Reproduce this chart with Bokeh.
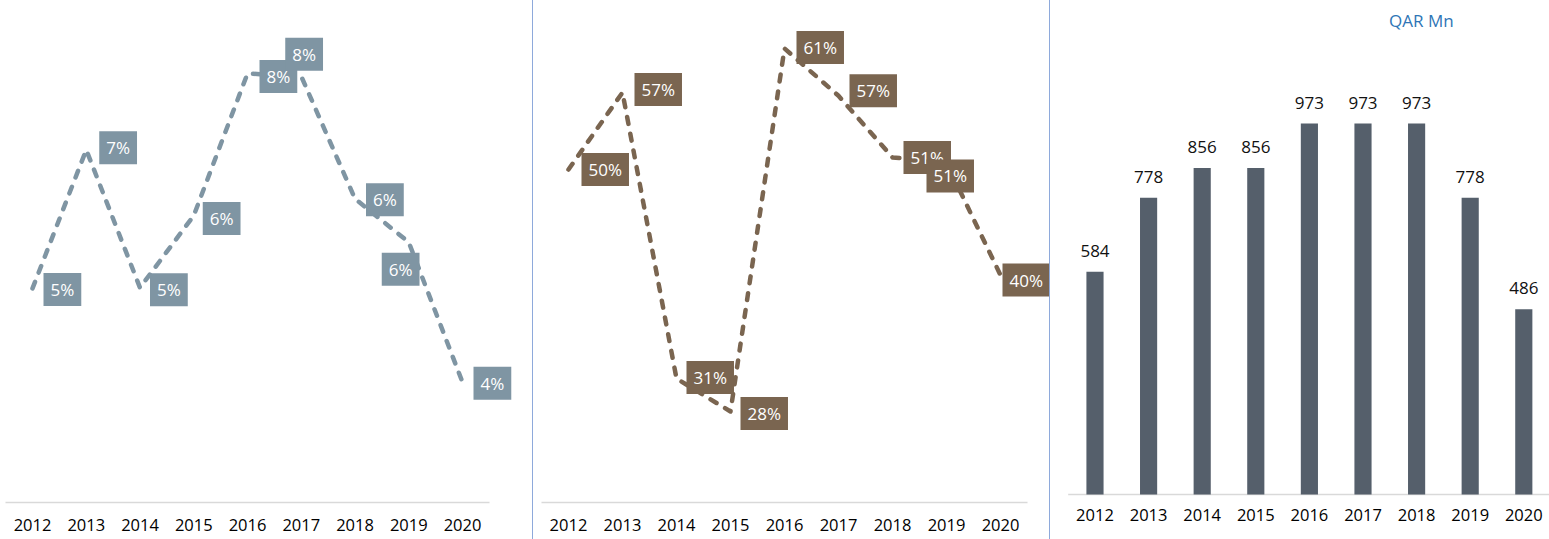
from bokeh.plotting import figure
from bokeh.layouts import row
from bokeh.models import Range1d, Label, FixedTicker
from bokeh.embed import file_html
from bokeh.resources import INLINE
from bokeh.core.properties import value

# ---------------- data ----------------
years = ["2012", "2013", "2014", "2015", "2016", "2017", "2018", "2019", "2020"]

ratio_a = [5.03, 7.01, 5.04, 6.07, 8.10, 8.06, 6.31, 5.69, 3.69]
ratio_a_labels = ["5%", "7%", "5%", "6%", "8%", "8%", "6%", "6%", "4%"]

ratio_b = [50.0, 57.0, 31.0, 28.0, 61.0, 56.7, 51.1, 50.6, 40.4]
ratio_b_labels = ["50%", "57%", "31%", "28%", "61%", "57%", "51%", "51%", "40%"]

amounts = [584, 778, 856, 856, 973, 973, 973, 778, 486]
amount_unit = "QAR Mn"

# positions of the categories on the library's numeric scale
xs = list(range(len(years)))
year_names = {i: y for i, y in zip(xs, years)}

# ---------------- styles / label placement ----------------
C_A = "#7F95A3"
C_B = "#7A6550"
C_BAR = "#555F6B"
AXIS_C = "#D9D9D9"
SEP_C = "#8EA9DB"
FONT = "Open Sans"

lbl_a_dx = [11, 13, 10, 9, 12, -16, 11, -27, 11]
lbl_a_dy = [1, -2, 2, 3, 3, -22, 1, 27, 1]
lbl_b_dx = [13, 12, 10, 10, 12, 11, 11, -20, 2]
lbl_b_dy = [0, -3, -1, 2, -1, -5, 0, 13, 5]


def style(p, standoff=16):
    p.xgrid.visible = False
    p.ygrid.visible = False
    p.yaxis.visible = False
    p.outline_line_color = None
    p.background_fill_color = "white"
    p.border_fill_color = "white"
    ax = p.xaxis[0]
    ax.ticker = FixedTicker(ticks=xs)
    ax.major_label_overrides = year_names
    ax.bounds = (-0.5, len(years) - 0.5)
    ax.axis_line_color = AXIS_C
    ax.axis_line_width = 1.5
    ax.major_tick_line_color = None
    ax.minor_tick_line_color = None
    ax.major_tick_out = 0
    ax.major_tick_in = 0
    ax.major_label_standoff = standoff
    ax.major_label_text_font = FONT
    ax.major_label_text_font_size = "16.5px"
    ax.major_label_text_color = "#000000"


common = dict(height=539, output_backend="svg", toolbar_location=None,
              min_border_top=0, min_border_bottom=37, min_border_left=0, min_border_right=0)

# ---------------- panel 1 ----------------
p1 = figure(width=533, x_range=Range1d(-0.5953, 9.321), y_range=Range1d(1.9714, 9.1429), **common)
style(p1)
p1.line(xs, ratio_a, line_color=C_A, line_width=4.5, line_dash="7 10",
        line_cap="round", line_join="round")
p1.text(x=xs, y=ratio_a, text=ratio_a_labels, x_offset=lbl_a_dx, y_offset=lbl_a_dy,
        anchor="center_left", padding=(7, 5), background_fill_color=C_A,
        text_color="white", text_font=value(FONT), text_font_size="17px",
        text_align="left", text_baseline="middle")

# ---------------- panel 2 ----------------
p2 = figure(width=517, x_range=Range1d(-0.648, 8.926), y_range=Range1d(19.727, 65.364), **common)
style(p2)
p2.styles = {"box-shadow": f"-1px 0px 0px 0px {SEP_C}"}
p2.line(xs, ratio_b, line_color=C_B, line_width=4.5, line_dash="7 10",
        line_cap="round", line_join="round")
p2.text(x=xs, y=ratio_b, text=ratio_b_labels, x_offset=lbl_b_dx, y_offset=lbl_b_dy,
        anchor="center_left", padding=(7, 5), background_fill_color=C_B,
        text_color="white", text_font=value(FONT), text_font_size="17px",
        text_align="left", text_baseline="middle")

# ---------------- panel 3 ----------------
p3 = figure(width=499, x_range=Range1d(-0.830, 8.4795), y_range=Range1d(-20.98, 1295.6), **common)
style(p3, standoff=6)
p3.xaxis[0].axis_line_color = None
p3.styles = {"box-shadow": f"-1px 0px 0px 0px {SEP_C}"}
# category baseline (value axis zero) spanning the category bands
p3.segment(x0=[xs[0] - 0.5], x1=[xs[-1] + 0.5], y0=[0], y1=[0],
           line_color=AXIS_C, line_width=1.5)
p3.vbar(x=xs, top=amounts, width=0.32, fill_color=C_BAR, line_color=None)
p3.text(x=xs, y=amounts, text=[str(a) for a in amounts], y_offset=-21,
        text_align="center", text_baseline="alphabetic",
        text_font=value(FONT), text_font_size="17px", text_color="#111111")
p3.add_layout(Label(x=6.09, y=1244, text=amount_unit, text_align="center",
                    text_baseline="middle", text_font=FONT, text_font_size="17px",
                    text_color="#2E75B6"))

layout = row(p1, p2, p3)
open("out.html", "w").write(file_html(layout, INLINE))
